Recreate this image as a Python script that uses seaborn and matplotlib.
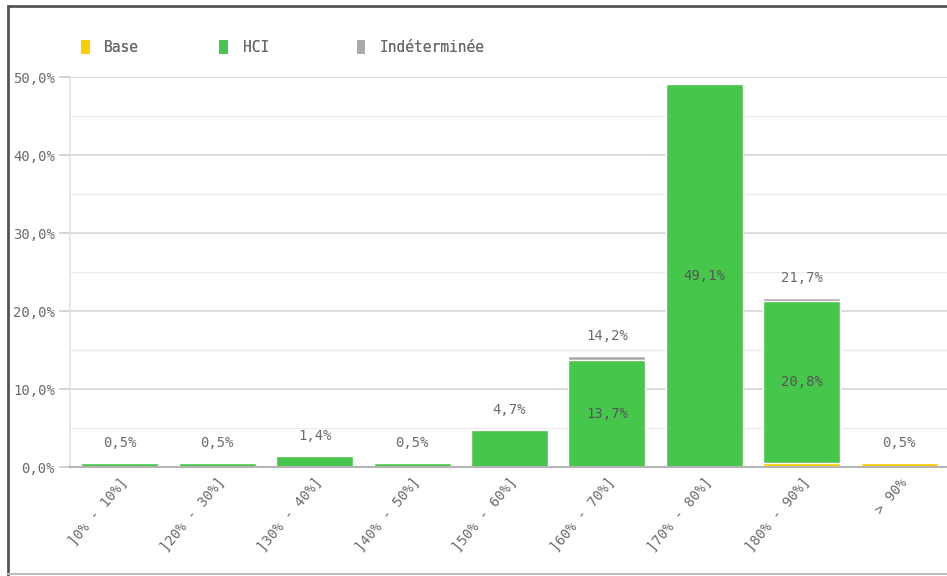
import matplotlib
matplotlib.use("Agg")
import matplotlib.pyplot as plt
from matplotlib.patches import Patch, Rectangle
from matplotlib.ticker import MultipleLocator, FuncFormatter
import numpy as np
import pandas as pd
import seaborn as sns

# Distribution par tranche
categories = ["]0% - 10%]", "]20% - 30%]", "]30% - 40%]", "]40% - 50%]",
              "]50% - 60%]", "]60% - 70%]", "]70% - 80%]", "]80% - 90%]", "> 90%"]
base = [0.0, 0.0, 0.0, 0.0, 0.0, 0.0, 0.0, 0.5, 0.5]
hci = [0.5, 0.5, 1.4, 0.5, 4.7, 13.7, 49.1, 20.8, 0.0]
indeterminee = [0.0, 0.0, 0.0, 0.0, 0.0, 0.5, 0.0, 0.4, 0.0]
total_labels = [0.5, 0.5, 1.4, 0.5, 4.7, 14.2, None, 21.7, 0.5]
inner_labels = [None, None, None, None, None, 13.7, 49.1, 20.8, None]

series_names = ["Base", "HCI", "Indéterminée"]
colors = {"Base": "#FFCC00", "HCI": "#46C64B", "Indéterminée": "#ABABAB"}

sns.set_theme(style="white")
plt.rcParams["font.family"] = ["DejaVu Sans Mono", "DejaVu Sans"]
text_color = "#6b6b6b"

df = pd.DataFrame({"cat": categories, "Base": base, "HCI": hci,
                   "Indéterminée": indeterminee})
df["top_base"] = df["Base"]
df["top_hci"] = df["Base"] + df["HCI"]
df["top_all"] = df["top_hci"] + df["Indéterminée"]

fig = plt.figure(figsize=(9.47, 5.76), dpi=100)
ax = fig.add_axes([0.074, 0.189, 0.927, 0.677])

bw = 0.79
# stacked layers drawn from the tallest cumulative height downwards
sns.barplot(data=df, x="cat", y="top_all", color=colors["Indéterminée"],
            width=bw, saturation=1, ax=ax, zorder=3)
sns.barplot(data=df, x="cat", y="top_hci", color=colors["HCI"],
            width=bw, saturation=1, ax=ax, zorder=3)
sns.barplot(data=df, x="cat", y="top_base", color=colors["Base"],
            width=bw, saturation=1, ax=ax, zorder=3)

ax.set_xlim(-0.51, 8.5)
ax.set_ylim(0, 50)
ax.set_xlabel("")
ax.set_ylabel("")

ax.yaxis.set_major_locator(MultipleLocator(10))
ax.yaxis.set_minor_locator(MultipleLocator(5))
ax.yaxis.set_major_formatter(FuncFormatter(lambda v, p: f"{v:.1f}%".replace(".", ",")))
ax.grid(axis="y", which="major", color="#d9d9d9", linewidth=1.3, zorder=0)
ax.grid(axis="y", which="minor", color="#ececec", linewidth=1.0, zorder=0)
ax.set_axisbelow(True)

for side in ["top", "right"]:
    ax.spines[side].set_visible(False)
ax.spines["left"].set_color("#e3e3e3")
ax.spines["left"].set_linewidth(1.2)
ax.spines["bottom"].set_color("#b5b5b5")
ax.spines["bottom"].set_linewidth(1.5)
ax.spines["bottom"].set_zorder(5)

ax.tick_params(axis="y", which="major", length=8, width=1.2, color="#cccccc",
               labelsize=10, labelcolor=text_color, pad=3, left=True)
ax.tick_params(axis="y", which="minor", length=0)
ax.tick_params(axis="x", length=0, labelsize=10, labelcolor=text_color, pad=6)
plt.setp(ax.get_xticklabels(), rotation=50, ha="right", rotation_mode="anchor")

# value labels
for i, v in enumerate(total_labels):
    if v is None:
        continue
    ax.annotate(f"{v:.1f}%".replace(".", ","), (i, df["top_all"][i]),
                xytext=(0, 14.5), textcoords="offset points",
                ha="center", va="center", fontsize=10, color=text_color, zorder=6)
for i, v in enumerate(inner_labels):
    if v is None:
        continue
    ax.text(i, df["Base"][i] + hci[i] / 2, f"{v:.1f}%".replace(".", ","),
            ha="center", va="center", fontsize=10, color="#555555", zorder=6)

# legend entries on a fixed horizontal pitch
legend_x = [0.0855, 0.2315, 0.3765]
for name, lx in zip(series_names, legend_x):
    leg = fig.legend(handles=[Patch(facecolor=colors[name], edgecolor="none", label=name)],
                     loc="center left", bbox_to_anchor=(lx, 0.918), frameon=False,
                     fontsize=10.5, handlelength=0.6, handleheight=1.2,
                     handletextpad=1.0, borderaxespad=0, borderpad=0,
                     labelcolor=text_color)
    fig.add_artist(leg)

# outer frame
fig.patches.append(Rectangle((0.008, -0.01), 1.5, 1.0,
                             transform=fig.transFigure, fill=False,
                             edgecolor="#555555", linewidth=2.0))
fig.add_artist(plt.Line2D([0.008, 1.0], [0.003, 0.003], transform=fig.transFigure,
                          color="#bdbdbd", linewidth=1.5))

fig.savefig("out.png", dpi=100)
